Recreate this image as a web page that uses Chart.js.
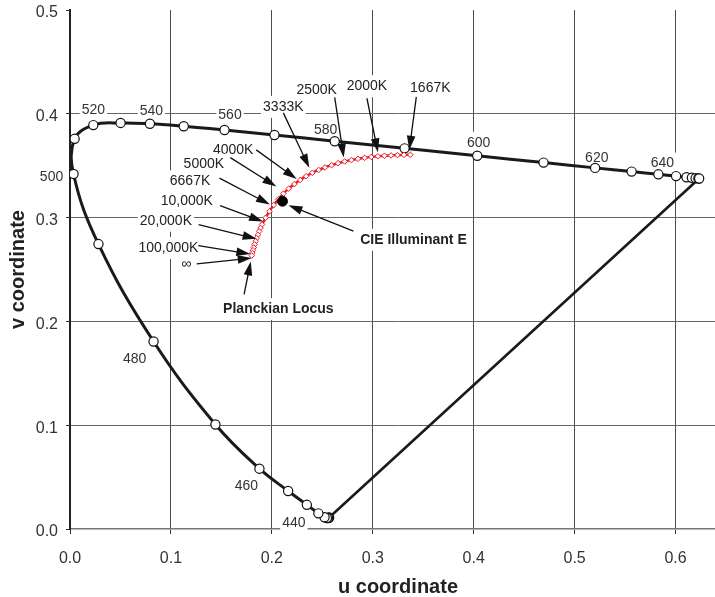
<!DOCTYPE html>
<html>
<head>
<meta charset="utf-8">
<script src="https://cdn.jsdelivr.net/npm/chart.js@4/dist/chart.umd.min.js"></script>
<style>
html,body{margin:0;padding:0;overflow:hidden;background:#fff;width:715px;height:597px}
#wrap{position:absolute;left:0;top:0;width:732px;height:597px}
</style>
</head>
<body>
<div id="wrap"><canvas id="c" width="732" height="597"></canvas></div>
<script>
// ---- DATA (CIE 1960 UCS) ----
const wavelengths = [380,390,400,410,420,430,440,450,460,470,480,490,500,510,520,530,540,550,560,570,580,590,600,610,620,630,640,650,660,670,680,690,700];
const specU = [0.2568,0.2564,0.2557,0.2545,0.2522,0.2461,0.2347,0.2161,0.1877,0.1441,0.0828,0.0282,0.0035,0.0046,0.0231,0.0501,0.0792,0.1127,0.1531,0.2026,0.2623,0.3315,0.4035,0.4692,0.5203,0.5565,0.5830,0.6005,0.6109,0.6162,0.6199,0.6226,0.6234];
const specV = [0.0111,0.0108,0.0106,0.0106,0.0113,0.0151,0.0233,0.0366,0.0581,0.1007,0.1806,0.2745,0.3420,0.3759,0.3891,0.3912,0.3904,0.3880,0.3844,0.3796,0.3736,0.3667,0.3596,0.3530,0.3479,0.3443,0.3417,0.3400,0.3389,0.3384,0.3380,0.3377,0.3377];

const planckMired = [600,580,560,540,520,500,480,460,440,420,400,380,360,340,320,300,280,260,240,220,200,180,160,140,120,100,90,80,70,60,50,40,30,20,10,0];
const planckU = [0.3372,0.3309,0.3245,0.3181,0.3116,0.3051,0.2985,0.2919,0.2853,0.2788,0.2722,0.2656,0.2592,0.2527,0.2464,0.2401,0.2340,0.2281,0.2223,0.2167,0.2114,0.2065,0.2019,0.1976,0.1938,0.1903,0.1888,0.1874,0.1861,0.1849,0.1839,0.1829,0.1821,0.1813,0.1807,0.1801];
const planckV = [0.3605,0.3604,0.3602,0.3599,0.3596,0.3591,0.3584,0.3576,0.3566,0.3554,0.3541,0.3524,0.3505,0.3483,0.3459,0.3431,0.3399,0.3363,0.3323,0.3279,0.3231,0.3178,0.3121,0.3061,0.2998,0.2933,0.2900,0.2867,0.2834,0.2802,0.2771,0.2741,0.2712,0.2685,0.2659,0.2635];

const illumEU = [0.2105];
const illumEV = [0.3158];

const xTicks = [0,0.1,0.2,0.3,0.4,0.5,0.6];
const yTicks = [0,0.1,0.2,0.3,0.4,0.5];

const wlLabelValues = [440,460,480,500,520,540,560,580,600,620,640];

const annTexts = ['1667K','2000K','2500K','3333K','4000K','5000K','6667K','10,000K','20,000K','100,000K','\u221E','Planckian Locus','CIE Illuminant E'];
const annU = [0.3372,0.3051,0.2722,0.2401,0.2251,0.2114,0.1996,0.1903,0.1839,0.1807,0.1801,0.1801,0.2105];
const annV = [0.3605,0.3591,0.3541,0.3431,0.3344,0.3231,0.3092,0.2933,0.2771,0.2659,0.2635,0.2635,0.3158];

// ---- LAYOUT of annotations (pixel offsets, not data) ----
const wlLabelOffset = {440:[-13,18],460:[-13,17],480:[-19,18],500:[-22,3],520:[0,-14.5],540:[1.5,-13],560:[5.5,-14.5],580:[-9,-11.5],600:[1.5,-13],620:[1.7,-10],640:[4,-10.7]};
// [tipDx, tipDy, tailDx, tailDy, textDx, textDy, bold]
const annLayout = [
  [-1,-5, 6,-58, 20,-67, false],
  [0,-4, -11,-58, -11,-70, false],
  [-1,-4, -10,-64, -28,-71, false],
  [-3,-5, -29,-60, -29,-66, false],
  [-0.5,-3, -41,-32, -64,-32, false],
  [-7,-7, -53,-36, -79.5,-29, false],
  [-1.5,-3.5, -52,-30, -81.4,-26.7, false],
  [1,-3, -42,-19, -75.3,-23.2, false],
  [1,-2.5, -57,-16.7, -89.7,-20.7, false],
  [-2,1, -54,-7.3, -84,-5, false],
  [0,2.6, -55,8.3, -65.4,8.3, false],
  [-1,6, -7.7,39, 26.6,53.6, true],
  [6,4, 71,30, 131,38.5, true]
];

const FONT = '"Liberation Sans", Arial, Helvetica, sans-serif';
Chart.defaults.font.family = FONT;

function drawLabel(ctx, text, x, y, bold, color) {
  ctx.font = (bold ? 'bold ' : '') + '14px ' + FONT;
  const w = ctx.measureText(text).width;
  ctx.fillStyle = '#fff';
  ctx.fillRect(x - w/2 - 2, y - 11, w + 4, 22);
  ctx.fillStyle = color || '#222';
  ctx.textAlign = 'center';
  ctx.textBaseline = 'middle';
  ctx.fillText(text, x, y);
}

function drawArrow(ctx, x1, y1, x2, y2) {
  const ang = Math.atan2(y2 - y1, x2 - x1);
  const L = 14, H = 4.3;
  ctx.strokeStyle = '#111';
  ctx.lineWidth = 1.3;
  ctx.beginPath();
  ctx.moveTo(x1, y1);
  ctx.lineTo(x2 - Math.cos(ang) * (L - 2), y2 - Math.sin(ang) * (L - 2));
  ctx.stroke();
  ctx.fillStyle = '#111';
  ctx.beginPath();
  ctx.moveTo(x2, y2);
  ctx.lineTo(x2 - Math.cos(ang) * L - Math.sin(ang) * H, y2 - Math.sin(ang) * L + Math.cos(ang) * H);
  ctx.lineTo(x2 - Math.cos(ang) * L + Math.sin(ang) * H, y2 - Math.sin(ang) * L - Math.cos(ang) * H);
  ctx.closePath();
  ctx.fill();
}

const annotationPlugin = {
  id: 'annotations',
  beforeDatasetsDraw(chart) {
    const ctx = chart.ctx, xs = chart.scales.x, ys = chart.scales.y;
    ctx.save();
    wlLabelValues.forEach(wl => {
      const i = wavelengths.indexOf(wl);
      const px = xs.getPixelForValue(specU[i]);
      const py = ys.getPixelForValue(specV[i]);
      const o = wlLabelOffset[wl];
      drawLabel(ctx, String(wl), px + o[0], py + o[1], false, '#333');
    });
    annTexts.forEach((t, i) => {
      const px = xs.getPixelForValue(annU[i]);
      const py = ys.getPixelForValue(annV[i]);
      const l = annLayout[i];
      drawLabel(ctx, t, px + l[4], py + l[5], l[6], '#222');
    });
    ctx.restore();
  },
  afterDatasetsDraw(chart) {
    const ctx = chart.ctx, xs = chart.scales.x, ys = chart.scales.y;
    ctx.save();
    annTexts.forEach((t, i) => {
      const px = xs.getPixelForValue(annU[i]);
      const py = ys.getPixelForValue(annV[i]);
      const l = annLayout[i];
      drawArrow(ctx, px + l[2], py + l[3], px + l[0], py + l[1]);
    });
    ctx.restore();
  }
};

const specData = wavelengths.map((w, i) => ({x: specU[i], y: specV[i]}));
const last = wavelengths.length - 1;
const closeData = [{x: specU[last], y: specV[last]}, {x: specU[0], y: specV[0]}];
const planckData = planckMired.map((m, i) => ({x: planckU[i], y: planckV[i]}));
const eData = illumEU.map((u, i) => ({x: u, y: illumEV[i]}));

new Chart(document.getElementById('c'), {
  type: 'scatter',
  data: {
    datasets: [
      {data: eData, pointRadius: 5, pointBackgroundColor: '#000', pointBorderColor: '#000', showLine: false, order: 0},
      {data: planckData, showLine: true, borderColor: '#ec1c24', borderWidth: 2.5, tension: 0.4,
       pointStyle: 'rectRot', pointRadius: 2.8, pointBackgroundColor: '#fff', pointBorderColor: '#ec1c24', pointBorderWidth: 1, order: 1},
      {data: specData, showLine: true, borderColor: '#1a1a1a', borderWidth: 3, tension: 0.4,
       pointRadius: 4.6, pointBackgroundColor: '#fff', pointBorderColor: '#111', pointBorderWidth: 1.2, order: 2},
      {data: closeData, showLine: true, borderColor: '#1a1a1a', borderWidth: 2.6, tension: 0, pointRadius: 0, order: 3}
    ]
  },
  options: {
    responsive: false,
    devicePixelRatio: 1,
    animation: false,
    events: [],
    layout: {padding: {top: 10, left: 0, right: 0, bottom: 0}},
    plugins: {legend: {display: false}, tooltip: {enabled: false}},
    scales: {
      x: {
        type: 'linear', min: 0, max: 0.65,
        afterBuildTicks: s => { s.ticks = xTicks.map(v => ({value: v})); },
        afterFit: s => { s.height = 68; },
        grid: {
          color: c => (c.tick && c.tick.value === 0) ? 'rgba(0,0,0,0)' : '#4d4d4d',
          lineWidth: 1, tickLength: 5, tickColor: '#333', tickWidth: 1
        },
        border: {color: '#777', width: 1.5},
        ticks: {padding: 15, font: {size: 16}, color: '#333', maxRotation: 0, autoSkip: false,
                callback: v => Number(v).toFixed(1)},
        title: {display: true, text: 'u coordinate', color: '#222',
                font: {size: 20, weight: 'bold', lineHeight: 1}, padding: {top: 0, bottom: 0}}
      },
      y: {
        type: 'linear', min: 0, max: 0.5,
        afterBuildTicks: s => { s.ticks = yTicks.map(v => ({value: v})); },
        afterFit: s => { s.width = 70; s.paddingTop = 0; s.paddingBottom = 0; },
        grid: {
          color: c => (c.tick && (c.tick.value === 0 || c.tick.value === 0.5)) ? 'rgba(0,0,0,0)' : '#666',
          lineWidth: 1, tickLength: 4, tickColor: '#333', tickWidth: 1
        },
        border: {color: '#222', width: 2},
        ticks: {padding: 8, labelOffset: 3, font: {size: 16}, color: '#333',
                callback: v => Number(v).toFixed(1)},
        title: {display: true, text: 'v coordinate', color: '#222',
                font: {size: 20, weight: 'bold', lineHeight: 1}, padding: {top: 8, bottom: 0}}
      }
    }
  },
  plugins: [annotationPlugin]
});
</script>
</body>
</html>
